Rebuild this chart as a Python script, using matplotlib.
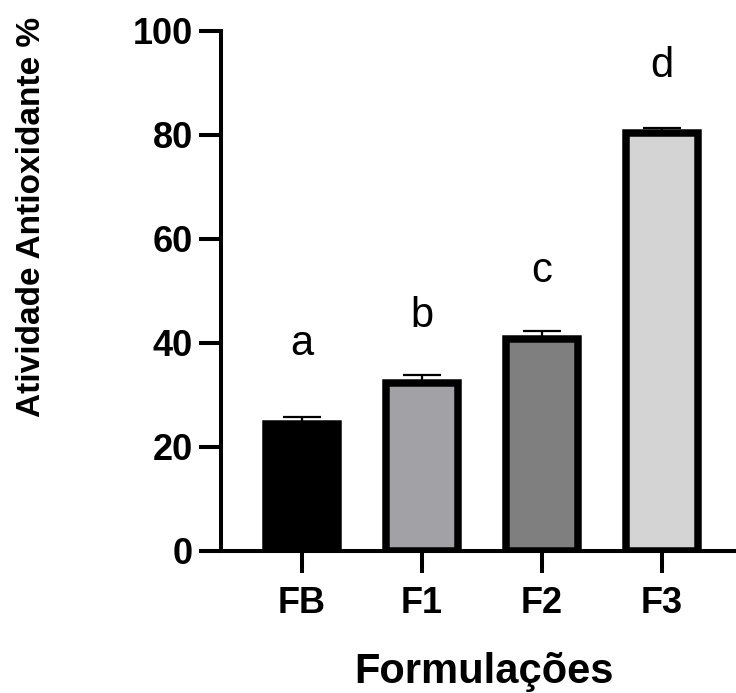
"""Atividade antioxidante das formulações (bar chart, Prism-like style)."""
import matplotlib
import numpy as np

matplotlib.use('Agg')
import matplotlib.pyplot as plt

plt.rcParams['font.family'] = ['Liberation Sans', 'DejaVu Sans']

formulations = ['FB', 'F1', 'F2', 'F3']
activity = [24.5, 32.4, 40.8, 80.4]
activity_sd = [1.3, 1.45, 1.5, 0.95]
groups = ['a', 'b', 'c', 'd']
bar_colors = ['#000000', '#a2a1a6', '#7f7f7f', '#d4d4d4']

W, H = 736, 693
fig = plt.figure(figsize=(W / 100, H / 100), dpi=100)
ax = fig.add_axes([221 / W, 1 - 551 / H, (W - 221) / W, 520 / H])

x = np.arange(len(formulations))
ax.bar(x, activity, width=0.604, color=bar_colors, edgecolor='black',
       linewidth=5.4, zorder=2)
ax.errorbar(x, activity, yerr=[np.zeros(len(x)), activity_sd], fmt='none',
            ecolor='black', elinewidth=1.6, capsize=14, capthick=1.6, zorder=3)

# significance letters above each bar
letter_offsets = [62, 48, 49, 51]  # px above error cap
for xi, v, e, g, off in zip(x, activity, activity_sd, groups, letter_offsets):
    ax.annotate(g, (xi, v + e), xytext=(0, off * 0.72), textcoords='offset points',
                ha='center', va='baseline', fontsize=30, annotation_clip=False)

ax.set_xlim(-0.675, 3.617)
ax.set_ylim(0, 100)
ax.set_yticks([0, 20, 40, 60, 80, 100])
ax.set_xticks(x)
ax.set_xticklabels(formulations)

for side in ('top', 'right'):
    ax.spines[side].set_visible(False)
for side in ('left', 'bottom'):
    ax.spines[side].set_linewidth(2.9)
ax.tick_params(axis='both', length=16, width=2.9, labelsize=26, colors='black')
ax.tick_params(axis='y', pad=4)
ax.tick_params(axis='x', pad=9)
for lbl in ax.get_xticklabels() + ax.get_yticklabels():
    lbl.set_fontweight('bold')

fig.text(32 / W, 1 - 217 / H, 'Atividade Antioxidante %', rotation=90,
         ha='center', va='center', fontsize=24, fontweight='bold')
fig.text(484 / W, 1 - 683 / H, 'Formulações', ha='center', va='baseline',
         fontsize=30, fontweight='bold')

fig.savefig('out.png', dpi=100)
plt.close(fig)
